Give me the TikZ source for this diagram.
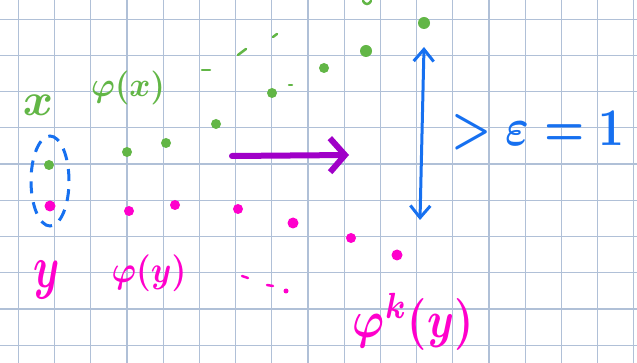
\documentclass[tikz,border=0pt]{standalone}
\usepackage{graphicx}
\usetikzlibrary{arrows.meta,shapes.geometric}
\definecolor{gridc}{RGB}{176,192,215}
\definecolor{inkgreen}{RGB}{98,182,70}
\definecolor{inkpink}{RGB}{255,0,204}
\definecolor{inkblue}{RGB}{22,112,240}
\definecolor{inkpurple}{RGB}{160,0,200}
\tikzset{
  gdot/.style={circle,fill=inkgreen,inner sep=0pt,minimum size=10pt},
  pdot/.style={circle,fill=inkpink,inner sep=0pt,minimum size=10pt},
  gmark/.style={draw=inkgreen,line width=2.5pt,line cap=round},
  pmark/.style={draw=inkpink,line width=2.5pt,line cap=round},
  hand/.style={inner sep=0pt,font=\boldmath},
}
\begin{document}
\begin{tikzpicture}[x=1pt,y=-1pt]
\useasboundingbox (0,0) rectangle (637,363);
\fill[white] (0,0) rectangle (637,363);
% grid
\foreach \k in {0,...,17} \draw[gridc,line width=1.2pt] ({18.3+36.2*\k},0) -- ({18.3+36.2*\k},363);
\foreach \k in {0,...,9} \draw[gridc,line width=1.2pt] (0,{19.3+36.2*\k}) -- (637,{19.3+36.2*\k});
% green dots
\node[gdot] (g0) at (49,165) {};
\node[gdot] (g1) at (127,152) {};
\node[gdot] (g2) at (166,143) {};
\node[gdot] (g3) at (216,124) {};
\node[gdot] (g4) at (272,93) {};
\node[gdot] (g5) at (324,68) {};
\node[gdot,minimum size=12pt] (g6) at (366,51) {};
\node[gdot,minimum size=12pt] (g7) at (424,23) {};
% green marks
\draw[gmark] (202,70) -- (210,70);
\draw[gmark] (238,55) -- (246,49);
\draw[gmark] (273,37) -- (277,34);
\draw[gmark] (289,85) -- (292,85);
\draw[gmark] (363,1) .. controls (365,5) and (369,5) .. (371,1);
% pink dots
\node[pdot,minimum size=11pt] (p0) at (50,206) {};
\node[pdot] (p1) at (129,211) {};
\node[pdot] (p2) at (175,205) {};
\node[pdot] (p3) at (238,209) {};
\node[pdot,minimum size=11pt] (p4) at (293,223) {};
\node[pdot] (p5) at (351,238) {};
\node[pdot,minimum size=11pt] (p6) at (397,255) {};
% pink marks
\draw[pmark] (242,276) -- (248,278);
\draw[pmark] (267,285) -- (273,286);
\fill[inkpink] (286,291) circle (2.5pt);
% blue dashed ellipse
\node[draw=inkblue,dash pattern=on 12pt off 9pt,line width=3pt,ellipse,minimum width=38pt,minimum height=90pt,inner sep=0pt] (ell) at (50,181) {};
% labels
\node[hand,text=inkgreen] (lx) at (38,105) {\scalebox{4.6}{$x$}};
\node[hand,text=inkgreen] (lphix) at (128,88) {\scalebox{3.2}[3.4]{$\varphi(x)$}};
\node[hand,text=inkpink] (ly) at (47,280) {\scalebox{4.2}[6]{$y$}};
\node[hand,text=inkpink] (lphiy) at (149,273) {\scalebox{3.3}[3.7]{$\varphi(y)$}};
\node[hand,text=inkpink] (lphik) at (413,322) {\scalebox{4.3}[5.2]{$\varphi^{k}(y)$}};
\node[hand,text=inkblue] (leps) at (538,131) {\scalebox{4.5}[5.3]{$>\varepsilon=1$}};
% blue double arrow
\coordinate (btop) at (424,47);
\coordinate (bbot) at (420,220);
\draw[inkblue,line width=3pt,{Straight Barb[length=12pt,width=20pt]}-{Straight Barb[length=12pt,width=20pt]}] (btop) -- (bbot);
% purple arrow
\coordinate (pa) at (232,156);
\coordinate (pb) at (349,155);
\draw[inkpurple,line width=6pt,line cap=round,-{Straight Barb[length=15pt,width=34pt]}] (pa) -- (pb);
\end{tikzpicture}
\end{document}
